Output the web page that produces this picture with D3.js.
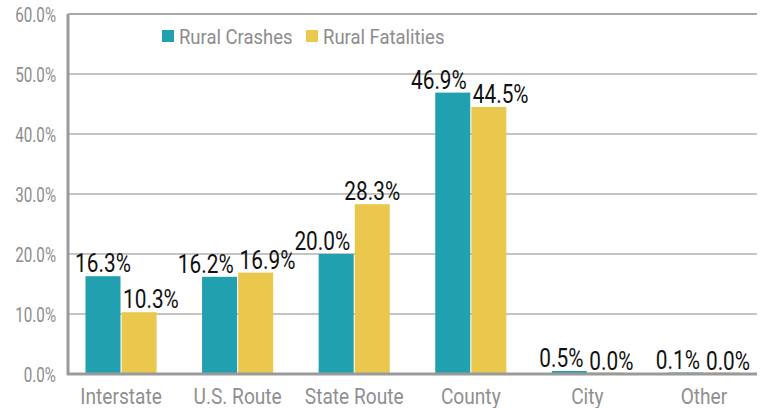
<!DOCTYPE html>
<html><head><meta charset="utf-8">
<script src="https://cdn.jsdelivr.net/npm/d3@7"></script>
<style>
html,body{margin:0;padding:0;background:#fff;}
svg text{font-family:Roboto,"Liberation Sans",sans-serif;}
</style></head>
<body><svg id="c" width="765" height="408"></svg>
<script>
const categories = ["Interstate","U.S. Route","State Route","County","City","Other"];
const seriesNames = ["Rural Crashes","Rural Fatalities"];
const ruralCrashes = [16.3,16.2,20.0,46.9,0.5,0.1];
const ruralFatalities = [10.3,16.9,28.3,44.5,0.0,0.0];
const yTicks = [0,10,20,30,40,50,60];
const colors = ["#21A0B0","#EAC84E"];

(function(){
const svg = d3.select("#c");
const pL=68, pR=757, pT=14, pB=374;
const y = d3.scaleLinear().domain([0,60]).range([pB,pT]);
const x0 = d3.scaleBand().domain(categories).range([pL,pR]).paddingInner(0.39).paddingOuter(0.15);
const x1 = d3.scaleBand().domain(seriesNames).range([0,x0.bandwidth()]).paddingInner(0.03);
const seriesVals = [ruralCrashes, ruralFatalities];

function condense(sel, sx){
  sel.each(function(){
    const t=d3.select(this); const x=+t.attr("x")||0;
    t.attr("transform",`translate(${x},0) scale(${sx},1) translate(${-x},0)`);
  });
}

svg.append("g").selectAll("line").data(yTicks.filter(t=>t>0)).join("line")
  .attr("x1",pL).attr("x2",pR).attr("y1",d=>y(d)).attr("y2",d=>y(d))
  .attr("stroke","#c4c4c4").attr("stroke-width",2);

const yAxis = d3.axisLeft(y).tickValues(yTicks).tickFormat(d=>d.toFixed(1)+"%").tickSize(0).tickPadding(12);
const ga = svg.append("g").attr("transform",`translate(${pL},0)`).call(yAxis);
ga.select(".domain").remove();
ga.attr("font-family",null);
ga.selectAll("text").attr("font-size",20).attr("fill","#8c8c8e").attr("dy","0.36em");
condense(ga.selectAll("text"),0.76);

const groups = svg.append("g").selectAll("g").data(categories).join("g")
  .attr("transform",d=>`translate(${x0(d)},0)`);
groups.each(function(cat,i){
  const g=d3.select(this);
  seriesNames.forEach((s,k)=>{
    const v=seriesVals[k][i];
    g.append("rect").attr("x",x1(s)).attr("width",x1.bandwidth())
      .attr("y",Math.min(y(v),pB-1.5)).attr("height",Math.max(pB-y(v),1.5)).attr("fill",colors[k]);
  });
});

const capH=18;
const vl=svg.append("g");
categories.forEach((cat,i)=>{
  const gx=x0(cat), gc=gx+x0.bandwidth()/2;
  const v0=ruralCrashes[i], v1=ruralFatalities[i];
  const b0=y(v0)-4, b1=y(v1)-4;
  const close=Math.abs(b0-b1)<capH+2;
  let t0={x:gx+x1(seriesNames[0])+x1.bandwidth()/2, anchor:"middle"};
  if(close || b0>y(v1)) t0={x:gc-4, anchor:"end"};
  let t1={x:gx+x1(seriesNames[1])+x1.bandwidth()/2, anchor:"middle"};
  if(close || b1>y(v0)) t1={x:gc+2, anchor:"start"};
  [[t0,b0,v0],[t1,b1,v1]].forEach(([t,b,v])=>{
    vl.append("text").attr("x",t.x).attr("y",b).attr("text-anchor",t.anchor)
      .attr("font-size",26).attr("font-weight",400).attr("fill","#111").text(v.toFixed(1)+"%");
  });
});
condense(vl.selectAll("text"),0.8);

svg.append("line").attr("x1",pL).attr("x2",pL).attr("y1",pT).attr("y2",pB+1)
  .attr("stroke","#9a9a9c").attr("stroke-width",3);
svg.append("line").attr("x1",pL-1).attr("x2",pR).attr("y1",pB).attr("y2",pB)
  .attr("stroke","#9a9a9c").attr("stroke-width",3);
svg.append("line").attr("x1",pL).attr("x2",pR).attr("y1",pT).attr("y2",pT)
  .attr("stroke","#a8a8a8").attr("stroke-width",2);

const xAxis=d3.axisBottom(x0).tickSize(0).tickPadding(0);
const gxA=svg.append("g").attr("transform",`translate(0,${pB})`).call(xAxis);
gxA.select(".domain").remove();
gxA.attr("font-family",null);
gxA.selectAll("text").attr("font-size",22.5).attr("fill","#8f8f91").attr("dy",null).attr("y",30);
condense(gxA.selectAll("text"),0.85);

const legX=[162,306];
const lg=svg.append("g");
seriesNames.forEach((s,k)=>{
  lg.append("rect").attr("x",legX[k]).attr("y",30).attr("width",12).attr("height",12).attr("fill",colors[k]);
  lg.append("text").attr("x",legX[k]+17).attr("y",44).attr("font-size",21).attr("fill","#8c8c8e").text(s);
});
condense(lg.selectAll("text"),0.88);
})();
</script></body></html>
